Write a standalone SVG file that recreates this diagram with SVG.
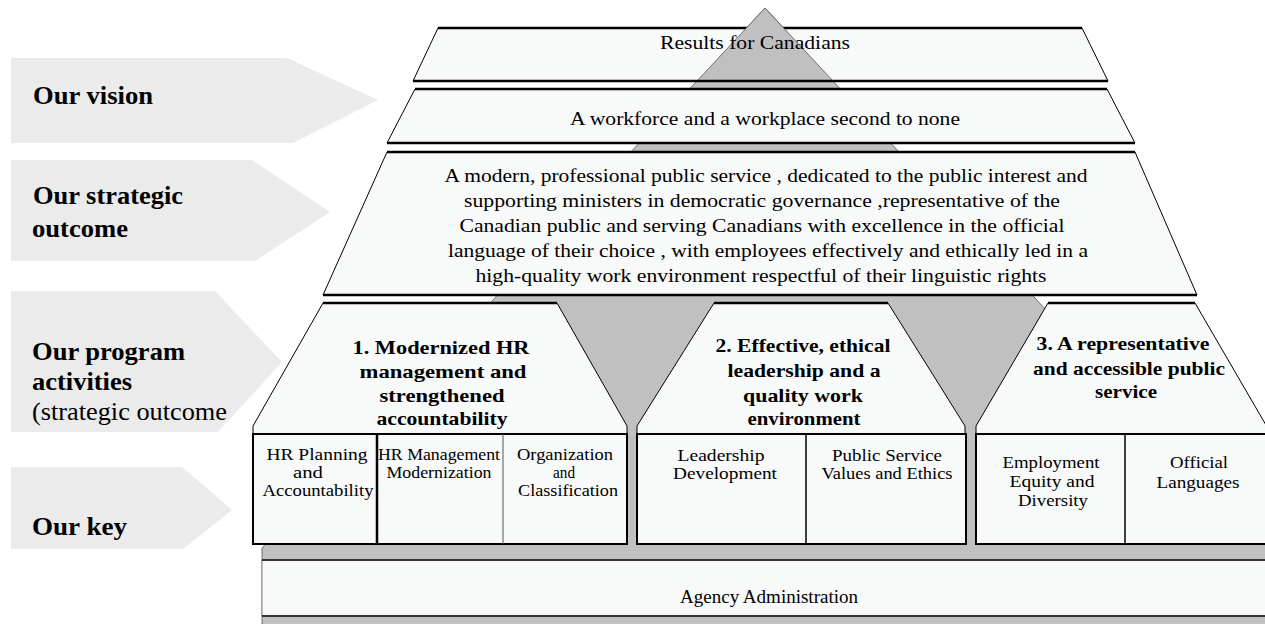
<svg xmlns="http://www.w3.org/2000/svg" width="1265" height="624" viewBox="0 0 1265 624">
<style>
.arrow{fill:#ebebeb;stroke:none}
.lbl{font-family:"Liberation Serif",serif;font-size:26px;font-weight:bold;fill:#000}
.lbln{font-family:"Liberation Serif",serif;font-size:26px;fill:#000}
.layer{fill:#f8f9f9;stroke:#000;stroke-width:1}
.edge{stroke:#000;stroke-width:2.5;fill:none}
.box{fill:#f8f9f9;stroke:#000;stroke-width:2}
.div{stroke:#000;stroke-width:1.5}
.divg{stroke:#555;stroke-width:1}
.grey{fill:#c0c0c0;stroke:#555;stroke-width:0.8}
.t{font-family:"Liberation Serif",serif;font-size:18px;fill:#000;text-anchor:middle}
.tb{font-family:"Liberation Serif",serif;font-size:19px;font-weight:bold;fill:#000;text-anchor:middle}
.tk{font-family:"Liberation Serif",serif;font-size:17px;fill:#000;text-anchor:middle}
</style>

<g id="backdrop">
  <polygon class="grey" points="765,8 1330,615 1330,630 262,630 262,548"/>
</g>

<g id="connectors"></g>

<g id="label-vision">
  <polygon class="arrow" points="11,58 287,58 378,100 293,143 11,143"/>
  <text class="lbl" x="33" y="104" textLength="120" lengthAdjust="spacingAndGlyphs">Our vision</text>
</g>
<g id="label-strategic">
  <polygon class="arrow" points="11,160 252,160 330,212 255,261 11,261"/>
  <text class="lbl" x="33" y="204" textLength="150" lengthAdjust="spacingAndGlyphs">Our strategic</text>
  <text class="lbl" x="32" y="237" textLength="96" lengthAdjust="spacingAndGlyphs">outcome</text>
</g>
<g id="label-program">
  <polygon class="arrow" points="11,291 215,291 282,362 218,432 11,432"/>
  <text class="lbl" x="32" y="360" textLength="153" lengthAdjust="spacingAndGlyphs">Our program</text>
  <text class="lbl" x="32" y="390" textLength="100" lengthAdjust="spacingAndGlyphs">activities</text>
  <text class="lbln" x="32" y="420" textLength="195" lengthAdjust="spacingAndGlyphs">(strategic outcome</text>
</g>
<g id="label-key">
  <polygon class="arrow" points="11,467 182,467 232,510 183,549 11,549"/>
  <text class="lbl" x="32" y="535" textLength="95" lengthAdjust="spacingAndGlyphs">Our key</text>
</g>

<g id="results">
  <polygon class="layer" points="438,28 1082,28 1108,81 413,81"/>
  <line class="edge" x1="438" y1="28" x2="1082" y2="28"/>
  <polygon class="grey" points="765,8 833,81 697,81"/>
  <line class="edge" x1="413" y1="81" x2="1108" y2="81"/>
  <text class="t" x="755" y="49" textLength="190" lengthAdjust="spacingAndGlyphs">Results for Canadians</text>
</g>

<g id="vision">
  <polygon class="layer" points="415,89 1107,89 1135,143 387,143"/>
  <line class="edge" x1="415" y1="89" x2="1107" y2="89"/>
  <line class="edge" x1="387" y1="143" x2="1135" y2="143"/>
  <text class="t" x="765" y="125" textLength="390" lengthAdjust="spacingAndGlyphs">A workforce and a workplace second to none</text>
</g>

<g id="outcome">
  <polygon class="layer" points="387,152 1135,152 1197,295 323,295"/>
  <line class="edge" x1="387" y1="152" x2="1135" y2="152"/>
  <line class="edge" x1="323" y1="295" x2="1197" y2="295"/>
  <text class="t" x="766" y="182" textLength="643" lengthAdjust="spacingAndGlyphs">A modern, professional public service , dedicated to the public interest and</text>
  <text class="t" x="762" y="207" textLength="596" lengthAdjust="spacingAndGlyphs">supporting ministers in democratic governance ,representative of the</text>
  <text class="t" x="762" y="232" textLength="605" lengthAdjust="spacingAndGlyphs">Canadian public and serving Canadians with excellence in the official</text>
  <text class="t" x="768" y="257" textLength="640" lengthAdjust="spacingAndGlyphs">language of their choice , with employees effectively and ethically led in a</text>
  <text class="t" x="761" y="282" textLength="571" lengthAdjust="spacingAndGlyphs">high-quality work environment respectful of their linguistic rights</text>
</g>

<g id="activity-1">
  <polygon class="layer" points="323,303 557,303 627,426 627,434 253,434 253,426"/>
  <line class="edge" x1="323" y1="303" x2="557" y2="303"/>
  <text class="tb" x="441" y="354" textLength="177" lengthAdjust="spacingAndGlyphs">1.  Modernized HR</text>
  <text class="tb" x="443" y="378" textLength="167" lengthAdjust="spacingAndGlyphs">management  and</text>
  <text class="tb" x="442" y="402" textLength="125" lengthAdjust="spacingAndGlyphs">strengthened</text>
  <text class="tb" x="442" y="425" textLength="131" lengthAdjust="spacingAndGlyphs">accountability</text>
</g>
<g id="key-1">
  <rect class="box" x="253" y="434" width="374" height="110"/>
  <line class="div" x1="377" y1="434" x2="377" y2="544" style="stroke-width:2.5"/>
  <line class="divg" x1="503" y1="434" x2="503" y2="544"/>
  <text class="tk" x="317" y="460" textLength="101" lengthAdjust="spacingAndGlyphs">HR Planning</text>
  <text class="tk" x="308" y="478" textLength="30" lengthAdjust="spacingAndGlyphs">and</text>
  <text class="tk" x="318" y="496" textLength="111" lengthAdjust="spacingAndGlyphs">Accountability</text>
  <text class="tk" x="439" y="460" textLength="122" lengthAdjust="spacingAndGlyphs">HR Management</text>
  <text class="tk" x="439" y="478" textLength="105" lengthAdjust="spacingAndGlyphs">Modernization</text>
  <text class="tk" x="565" y="460" textLength="96" lengthAdjust="spacingAndGlyphs">Organization</text>
  <text class="tk" x="564" y="478" textLength="22" lengthAdjust="spacingAndGlyphs">and</text>
  <text class="tk" x="568" y="496" textLength="100" lengthAdjust="spacingAndGlyphs">Classification</text>
</g>

<g id="activity-2">
  <polygon class="layer" points="714,303 888,303 965,426 965,434 637,434 637,426"/>
  <line class="edge" x1="714" y1="303" x2="888" y2="303"/>
  <text class="tb" x="803" y="352" textLength="175" lengthAdjust="spacingAndGlyphs">2. Effective, ethical</text>
  <text class="tb" x="804" y="377" textLength="153" lengthAdjust="spacingAndGlyphs">leadership and a</text>
  <text class="tb" x="803" y="402" textLength="120" lengthAdjust="spacingAndGlyphs">quality work</text>
  <text class="tb" x="804" y="425" textLength="113" lengthAdjust="spacingAndGlyphs">environment</text>
</g>
<g id="key-2">
  <rect class="box" x="637" y="434" width="329" height="110"/>
  <line class="div" x1="806" y1="434" x2="806" y2="544"/>
  <text class="tk" x="721" y="461" textLength="87" lengthAdjust="spacingAndGlyphs">Leadership</text>
  <text class="tk" x="725" y="479" textLength="104" lengthAdjust="spacingAndGlyphs">Development</text>
  <text class="tk" x="887" y="461" textLength="110" lengthAdjust="spacingAndGlyphs">Public Service</text>
  <text class="tk" x="887" y="479" textLength="131" lengthAdjust="spacingAndGlyphs">Values and Ethics</text>
</g>

<g id="activity-3">
  <polygon class="layer" points="1048,303 1195,303 1270,432 1270,434 976,434 976,426"/>
  <line class="edge" x1="1048" y1="303" x2="1195" y2="303"/>
  <text class="tb" x="1123" y="350" textLength="173" lengthAdjust="spacingAndGlyphs">3. A representative</text>
  <text class="tb" x="1129" y="375" textLength="192" lengthAdjust="spacingAndGlyphs">and accessible public</text>
  <text class="tb" x="1126" y="398" textLength="62" lengthAdjust="spacingAndGlyphs">service</text>
</g>
<g id="key-3">
  <rect class="box" x="976" y="434" width="300" height="110"/>
  <line class="div" x1="1125" y1="434" x2="1125" y2="544"/>
  <text class="tk" x="1051" y="468" textLength="97" lengthAdjust="spacingAndGlyphs">Employment</text>
  <text class="tk" x="1052" y="487" textLength="85" lengthAdjust="spacingAndGlyphs">Equity and</text>
  <text class="tk" x="1053" y="506" textLength="70" lengthAdjust="spacingAndGlyphs">Diversity</text>
  <text class="tk" x="1199" y="468" textLength="58" lengthAdjust="spacingAndGlyphs">Official</text>
  <text class="tk" x="1198" y="488" textLength="83" lengthAdjust="spacingAndGlyphs">Languages</text>
</g>

<g id="agency">
  <rect x="262" y="560" width="1010" height="56" fill="#f8f9f9" stroke="none"/>
  <line x1="262" y1="560" x2="262" y2="616" stroke="#888" stroke-width="1"/>
  <line x1="262" y1="560" x2="1270" y2="560" stroke="#333" stroke-width="2"/>
  <line x1="262" y1="616" x2="1270" y2="616" stroke="#333" stroke-width="2"/>
  <text class="t" x="769" y="603" textLength="178" lengthAdjust="spacingAndGlyphs">Agency Administration</text>
</g>
</svg>
